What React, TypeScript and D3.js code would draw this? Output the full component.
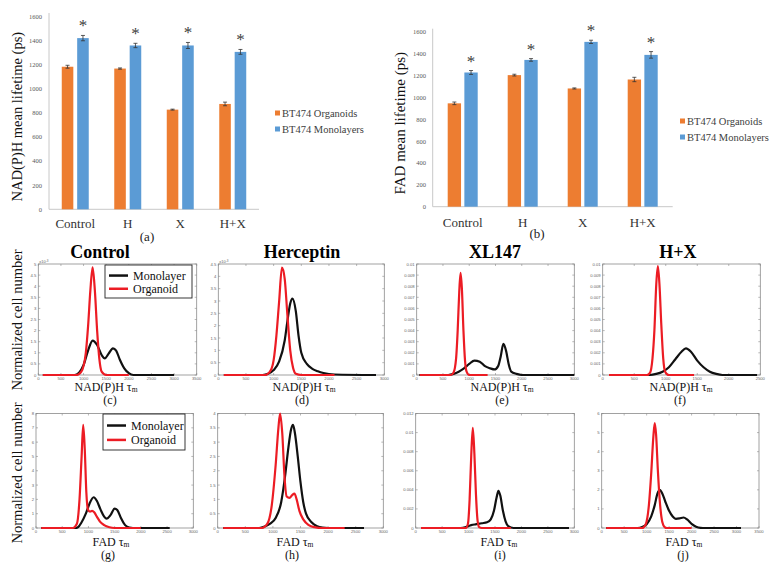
import React from 'react';
import * as d3 from 'd3';

// ---------- Bar chart data ----------
const barCategories = ['Control', 'H', 'X', 'H+X'];
const barSeries = ['BT474 Organoids', 'BT474 Monolayers'];
const barTicks = [0, 200, 400, 600, 800, 1000, 1200, 1400, 1600];

const nadhOrganoid = [1180, 1165, 825, 872];
const nadhOrganoidErr = [12, 5, 4, 15];
const nadhMonolayer = [1417, 1356, 1356, 1303];
const nadhMonolayerErr = [22, 18, 25, 20];

const fadOrganoid = [945, 1203, 1081, 1163];
const fadOrganoidErr = [12, 8, 5, 20];
const fadMonolayer = [1227, 1342, 1507, 1388];
const fadMonolayerErr = [18, 12, 15, 30];

// ---------- Histogram curves [tau_m (ps), normalized cell number] ----------
const cMono: [number, number][] = [[100, 0], [800, 0], [900, 0.1], [1000, 0.45], [1100, 1.1], [1200, 1.55], [1300, 1.35], [1400, 0.9], [1470, 0.75], [1550, 0.95], [1650, 1.2], [1720, 1.1], [1800, 0.7], [1900, 0.3], [2000, 0.08], [2100, 0], [3000, 0]];
const cOrg: [number, number][] = [[100, 0], [850, 0], [950, 0.15], [1050, 1.0], [1100, 2.2], [1150, 3.8], [1200, 4.85], [1250, 3.8], [1300, 2.0], [1350, 0.7], [1400, 0.15], [1500, 0], [2000, 0]];

const dMono: [number, number][] = [[100, 0], [800, 0], [900, 0.05], [1000, 0.2], [1100, 0.55], [1200, 1.4], [1250, 2.2], [1300, 2.9], [1340, 3.1], [1400, 2.6], [1450, 1.6], [1500, 0.9], [1600, 0.45], [1700, 0.25], [1800, 0.15], [1900, 0.08], [2100, 0.02], [2850, 0]];
const dOrg: [number, number][] = [[100, 0], [850, 0], [950, 0.2], [1000, 0.6], [1050, 1.6], [1100, 3.0], [1150, 4.35], [1200, 3.9], [1250, 2.4], [1300, 1.0], [1350, 0.3], [1400, 0.05], [1500, 0], [2100, 0]];

const eMono: [number, number][] = [[50, 0], [600, 0], [700, 0.0001], [800, 0.0003], [900, 0.0006], [1000, 0.001], [1100, 0.0013], [1200, 0.0012], [1300, 0.0008], [1400, 0.0006], [1480, 0.0005], [1550, 0.0008], [1600, 0.0017], [1650, 0.0028], [1700, 0.0022], [1750, 0.001], [1800, 0.0003], [1900, 0.0001], [2000, 0], [3000, 0]];
const eOrg: [number, number][] = [[60, 0], [650, 0], [700, 0.0002], [750, 0.0015], [780, 0.004], [810, 0.0075], [835, 0.0092], [860, 0.0078], [890, 0.004], [920, 0.0013], [950, 0.0003], [1000, 0], [1350, 0]];

const fMono: [number, number][] = [[100, 0], [750, 0], [850, 0.0001], [950, 0.0003], [1050, 0.0007], [1150, 0.0014], [1250, 0.0021], [1320, 0.0024], [1400, 0.0021], [1500, 0.0013], [1600, 0.0007], [1700, 0.0003], [1800, 0.0001], [1900, 0], [2450, 0]];
const fOrg: [number, number][] = [[100, 0], [700, 0], [750, 0.0002], [790, 0.0015], [820, 0.004], [850, 0.0082], [875, 0.0098], [900, 0.0082], [930, 0.0045], [960, 0.0015], [990, 0.0003], [1050, 0], [1450, 0]];

const gMono: [number, number][] = [[100, 0], [750, 0], [800, 0.05], [870, 0.4], [950, 1.0], [1020, 1.7], [1100, 2.15], [1160, 1.9], [1230, 1.3], [1300, 0.8], [1350, 0.65], [1420, 0.9], [1500, 1.35], [1550, 1.25], [1620, 0.7], [1700, 0.2], [1780, 0.03], [1850, 0], [2550, 0]];
const gOrg: [number, number][] = [[100, 0], [700, 0], [780, 0.3], [830, 2.0], [870, 5.0], [900, 7.2], [930, 5.5], [960, 2.5], [990, 1.3], [1030, 1.15], [1070, 1.2], [1110, 1.1], [1160, 0.8], [1220, 0.45], [1300, 0.2], [1400, 0.05], [1500, 0], [2000, 0]];

const hMono: [number, number][] = [[100, 0], [750, 0], [850, 0.05], [950, 0.15], [1050, 0.35], [1150, 0.9], [1220, 1.8], [1280, 2.8], [1330, 3.45], [1365, 3.6], [1400, 3.3], [1450, 2.5], [1500, 1.6], [1550, 0.9], [1600, 0.5], [1700, 0.2], [1800, 0.06], [1900, 0.01], [2000, 0], [2650, 0]];
const hOrg: [number, number][] = [[100, 0], [800, 0], [900, 0.15], [980, 0.8], [1050, 2.2], [1100, 3.5], [1130, 4.0], [1170, 3.3], [1210, 1.8], [1250, 1.1], [1300, 1.05], [1350, 1.15], [1390, 1.2], [1430, 1.0], [1480, 0.6], [1550, 0.3], [1650, 0.1], [1750, 0.03], [1900, 0], [2300, 0]];

const iMono: [number, number][] = [[100, 0], [850, 0], [950, 0.0001], [1050, 0.0003], [1150, 0.0004], [1250, 0.0005], [1350, 0.0006], [1420, 0.0009], [1480, 0.0018], [1530, 0.0032], [1565, 0.0039], [1600, 0.0034], [1650, 0.0018], [1700, 0.0007], [1750, 0.0002], [1850, 0], [2900, 0]];
const iOrg: [number, number][] = [[100, 0], [950, 0], [990, 0.0005], [1020, 0.003], [1050, 0.0075], [1080, 0.0105], [1110, 0.0078], [1140, 0.0035], [1170, 0.0008], [1200, 0.0001], [1250, 0], [1800, 0]];

const jMono: [number, number][] = [[100, 0], [800, 0], [900, 0.05], [1000, 0.2], [1100, 0.6], [1180, 1.2], [1240, 1.8], [1290, 2.0], [1350, 1.8], [1420, 1.35], [1500, 0.9], [1580, 0.6], [1650, 0.48], [1730, 0.5], [1820, 0.55], [1900, 0.45], [2000, 0.22], [2100, 0.07], [2200, 0.01], [2300, 0], [3100, 0]];
const jOrg: [number, number][] = [[100, 0], [900, 0], [980, 0.2], [1050, 1.2], [1100, 2.8], [1150, 4.8], [1180, 5.5], [1210, 4.9], [1250, 3.0], [1300, 1.2], [1350, 0.3], [1400, 0.05], [1450, 0], [2000, 0]];

const histLegend = ['Monolayer', 'Organoid'];
const rowTitles = ['Control', 'Herceptin', 'XL147', 'H+X'];

const SERIF = "'Liberation Serif', 'Times New Roman', serif";
const SANS = "'Liberation Sans', Arial, sans-serif";
const ORANGE = '#ED7D31';
const BLUE = '#5B9BD5';
const RED = '#ec1c24';
const BLACK = '#111111';

type BarProps = {
  x0: number; x1: number; yBase: number; yTop: number;
  org: number[]; orgErr: number[]; mono: number[]; monoErr: number[];
  pInner: number; pOuter: number; subPad: number;
  yTitle: string; yTitleX: number; yTitleSize: number;
  tickRight: number; catY: number; letter: string; letterX: number; letterY: number;
  legX: number; legY: number;
};

function BarChart(p: BarProps) {
  const x = d3.scaleBand<string>().domain(barCategories).range([p.x0, p.x1]).paddingInner(p.pInner).paddingOuter(p.pOuter);
  const xs = d3.scaleBand<string>().domain(barSeries).range([0, x.bandwidth()]).paddingInner(p.subPad);
  const y = d3.scaleLinear().domain([0, 1600]).range([p.yBase, p.yTop]);
  const sets = [
    { vals: p.org, errs: p.orgErr, color: ORANGE, s: barSeries[0] },
    { vals: p.mono, errs: p.monoErr, color: BLUE, s: barSeries[1] },
  ];
  const yMid = (p.yBase + p.yTop) / 2 + 4;
  return (
    <g>
      {barTicks.map(t => (
        <text key={t} x={p.tickRight} y={y(t)} fontSize={6.5} fill="#595959" textAnchor="end" dominantBaseline="central" fontFamily={SERIF}>{t}</text>
      ))}
      <line x1={p.x0} x2={p.x0} y1={y(1600) - 3} y2={p.yBase} stroke="#c8c8c8" strokeWidth={1} />
      <line x1={p.x0} x2={p.x1} y1={p.yBase} y2={p.yBase} stroke="#c8c8c8" strokeWidth={1} />
      {sets.map(set => barCategories.map((c, i) => {
        const bx = (x(c) as number) + (xs(set.s) as number);
        const bw = xs.bandwidth();
        const cx = bx + bw / 2;
        const v = set.vals[i];
        const e = set.errs[i];
        return (
          <g key={set.s + c}>
            <rect x={bx} y={y(v)} width={bw} height={p.yBase - y(v)} fill={set.color} />
            <line x1={cx} x2={cx} y1={y(v + e)} y2={y(v - e)} stroke="#333" strokeWidth={0.8} />
            <line x1={cx - 2} x2={cx + 2} y1={y(v + e)} y2={y(v + e)} stroke="#333" strokeWidth={0.8} />
            <line x1={cx - 2} x2={cx + 2} y1={y(v - e)} y2={y(v - e)} stroke="#333" strokeWidth={0.8} />
          </g>
        );
      }))}
      {barCategories.map((c, i) => {
        const cx = (x(c) as number) + (xs(barSeries[1]) as number) + xs.bandwidth() / 2;
        return <text key={'ast' + c} x={cx} y={y(p.mono[i] + p.monoErr[i]) - 4} fontSize={17} fill="#404040" textAnchor="middle" fontFamily={SERIF}>*</text>;
      })}
      {barCategories.map(c => (
        <text key={'cat' + c} x={(x(c) as number) + x.bandwidth() / 2} y={p.catY} fontSize={13} fill="#333" textAnchor="middle" fontFamily={SERIF}>{c}</text>
      ))}
      <text x={p.letterX} y={p.letterY} fontSize={13} fill="#222" textAnchor="middle" fontFamily={SERIF}>{p.letter}</text>
      <text transform={`translate(${p.yTitleX},${yMid}) rotate(-90)`} fontSize={p.yTitleSize} fill="#111" textAnchor="middle" dominantBaseline="central" fontFamily={SERIF}>{p.yTitle}</text>
      {barSeries.map((s, i) => (
        <g key={'leg' + s}>
          <rect x={p.legX} y={p.legY + i * 16 - 2.5} width={5} height={5} fill={i === 0 ? ORANGE : BLUE} />
          <text x={p.legX + 7} y={p.legY + i * 16} fontSize={10.5} fill="#404040" dominantBaseline="central" fontFamily={SERIF}>{s}</text>
        </g>
      ))}
    </g>
  );
}

type HistProps = {
  left: number; right: number; top: number; bottom: number;
  xMax: number; yMax: number; yStep: number; fmt: (v: number) => string; mult?: boolean;
  mono: [number, number][]; org: [number, number][];
  title?: string; titleX?: number; titleY?: number;
  xLabel: string; xLabelX: number; xLabelY: number; letter: string; letterX: number; letterY: number;
  legend?: { x: number; y: number; w: number; h: number };
};

function Hist(p: HistProps) {
  const xs = d3.scaleLinear().domain([0, p.xMax]).range([p.left, p.right]);
  const ys = d3.scaleLinear().domain([0, p.yMax]).range([p.bottom, p.top]);
  const line = d3.line<[number, number]>().x(d => xs(d[0])).y(d => ys(d[1])).curve(d3.curveMonotoneX);
  const xt = d3.range(0, p.xMax + 1, 500);
  const nY = Math.round(p.yMax / p.yStep);
  const yt = d3.range(0, nY + 1).map(k => k * p.yStep);
  return (
    <g>
      {p.title && <text x={p.titleX} y={p.titleY} fontSize={18} fontWeight="bold" textAnchor="middle" fill="#000" fontFamily={SERIF}>{p.title}</text>}
      <rect x={p.left} y={p.top} width={p.right - p.left} height={p.bottom - p.top} fill="#fff" stroke="#8a8a8a" strokeWidth={0.8} />
      {xt.map(t => (
        <g key={'x' + t}>
          <line x1={xs(t)} x2={xs(t)} y1={p.bottom} y2={p.bottom - 2} stroke="#8a8a8a" strokeWidth={0.6} />
          <line x1={xs(t)} x2={xs(t)} y1={p.top} y2={p.top + 2} stroke="#8a8a8a" strokeWidth={0.6} />
          <text x={xs(t)} y={p.bottom + 4.6} fontSize={4.2} fill="#666" textAnchor="middle" fontFamily={SANS}>{t}</text>
        </g>
      ))}
      {yt.map(t => (
        <g key={'y' + t}>
          <line x1={p.left} x2={p.left + 2} y1={ys(t)} y2={ys(t)} stroke="#8a8a8a" strokeWidth={0.6} />
          <line x1={p.right} x2={p.right - 2} y1={ys(t)} y2={ys(t)} stroke="#8a8a8a" strokeWidth={0.6} />
          <text x={p.left - 2} y={ys(t)} fontSize={4.2} fill="#666" textAnchor="end" dominantBaseline="central" fontFamily={SANS}>{p.fmt(t)}</text>
        </g>
      ))}
      {p.mult && (
        <text x={p.left + 1} y={p.top - 1} fontSize={4} fill="#666" fontFamily={SANS}>x10<tspan dy={-1.5} fontSize={3}>-3</tspan></text>
      )}
      <path d={line(p.mono) as string} fill="none" stroke={BLACK} strokeWidth={2.2} strokeLinejoin="round" />
      <path d={line(p.org) as string} fill="none" stroke={RED} strokeWidth={2.2} strokeLinejoin="round" />
      {p.legend && (
        <g>
          <rect x={p.legend.x} y={p.legend.y} width={p.legend.w} height={p.legend.h} fill="#fff" stroke="#222" strokeWidth={0.9} />
          {histLegend.map((s, i) => {
            const ly = p.legend!.y + p.legend!.h * (0.32 + i * 0.4);
            return (
              <g key={s}>
                <line x1={p.legend!.x + 4} x2={p.legend!.x + 23} y1={ly} y2={ly} stroke={i === 0 ? BLACK : RED} strokeWidth={2.5} />
                <text x={p.legend!.x + 28} y={ly} fontSize={12} fill="#111" dominantBaseline="central" fontFamily={SERIF}>{s}</text>
              </g>
            );
          })}
        </g>
      )}
      <text x={p.xLabelX} y={p.xLabelY} fontSize={12} fill="#111" textAnchor="middle" fontFamily={SERIF}>
        {p.xLabel} τ<tspan fontSize={7.5} dy={1.8} fill="#111">m</tspan>
      </text>
      <text x={p.letterX} y={p.letterY} fontSize={12} fill="#111" textAnchor="middle" fontFamily={SERIF}>{p.letter}</text>
    </g>
  );
}

const fmtDec = (v: number) => String(+v.toFixed(4));

export default function App() {
  const r1 = { top: 264, bottom: 375 };
  const r2 = { top: 413.5, bottom: 528 };
  return (
    <div style={{ position: 'absolute', left: 0, top: 0 }}>
      <svg width={775} height={569} style={{ display: 'block', background: '#fff' }}>
        <BarChart x0={49} x1={259} yBase={209.3} yTop={16} org={nadhOrganoid} orgErr={nadhOrganoidErr} mono={nadhMonolayer} monoErr={nadhMonolayerErr}
          pInner={0.486} pOuter={0.243} subPad={0.25} yTitle="NAD(P)H mean lifetime (ps)" yTitleX={17} yTitleSize={14.5}
          tickRight={42} catY={228} letter="(a)" letterX={147} letterY={241} legX={275} legY={113} />
        <BarChart x0={432.7} x1={672.7} yBase={206.7} yTop={31.7} org={fadOrganoid} orgErr={fadOrganoidErr} mono={fadMonolayer} monoErr={fadMonolayerErr}
          pInner={0.5} pOuter={0.25} subPad={0.2} yTitle="FAD mean lifetime (ps)" yTitleX={400} yTitleSize={15}
          tickRight={426} catY={227} letter="(b)" letterX={537} letterY={238} legX={680} legY={121} />

        <text transform="translate(17,320) rotate(-90)" fontSize={14.5} textAnchor="middle" dominantBaseline="central" fill="#111" fontFamily={SERIF}>Normalized cell number</text>
        <text transform="translate(17,473) rotate(-90)" fontSize={14.5} textAnchor="middle" dominantBaseline="central" fill="#111" fontFamily={SERIF}>Normalized cell number</text>

        <Hist left={38.3} right={196.7} {...r1} xMax={3500} yMax={5} yStep={0.5} fmt={fmtDec} mult mono={cMono} org={cOrg}
          title={rowTitles[0]} titleX={100} titleY={258} xLabel="NAD(P)H" xLabelX={106} xLabelY={390.5} letter="(c)" letterX={110} letterY={404}
          legend={{ x: 105, y: 265, w: 87, h: 33 }} />
        <Hist left={218.3} right={384.3} {...r1} xMax={3000} yMax={4.5} yStep={0.5} fmt={fmtDec} mult mono={dMono} org={dOrg}
          title={rowTitles[1]} titleX={302} titleY={258} xLabel="NAD(P)H" xLabelX={304} xLabelY={390.5} letter="(d)" letterX={302} letterY={404} />
        <Hist left={416.7} right={574.3} {...r1} xMax={3000} yMax={0.01} yStep={0.001} fmt={fmtDec} mono={eMono} org={eOrg}
          title={rowTitles[2]} titleX={495} titleY={258} xLabel="NAD(P)H" xLabelX={502} xLabelY={390.5} letter="(e)" letterX={502} letterY={404} />
        <Hist left={602.7} right={760.3} {...r1} xMax={2500} yMax={0.01} yStep={0.001} fmt={fmtDec} mono={fMono} org={fOrg}
          title={rowTitles[3]} titleX={678} titleY={258} xLabel="NAD(P)H" xLabelX={681} xLabelY={390.5} letter="(f)" letterX={680} letterY={404} />

        <Hist left={36} right={193.3} {...r2} xMax={3000} yMax={8} yStep={1} fmt={fmtDec} mono={gMono} org={gOrg}
          xLabel="FAD" xLabelX={111} xLabelY={545.5} letter="(g)" letterX={108} letterY={559}
          legend={{ x: 103, y: 414, w: 82, h: 36 }} />
        <Hist left={217.7} right={383.3} {...r2} xMax={3000} yMax={4} yStep={0.5} fmt={fmtDec} mono={hMono} org={hOrg}
          xLabel="FAD" xLabelX={295} xLabelY={545.5} letter="(h)" letterX={292} letterY={559} />
        <Hist left={415.7} right={574.3} {...r2} xMax={3000} yMax={0.012} yStep={0.002} fmt={fmtDec} mono={iMono} org={iOrg}
          xLabel="FAD" xLabelX={499} xLabelY={545.5} letter="(i)" letterX={500} letterY={559} />
        <Hist left={601.7} right={759} {...r2} xMax={3500} yMax={6} yStep={1} fmt={fmtDec} mono={jMono} org={jOrg}
          xLabel="FAD" xLabelX={684} xLabelY={545.5} letter="(j)" letterX={683} letterY={559} />
      </svg>
    </div>
  );
}
